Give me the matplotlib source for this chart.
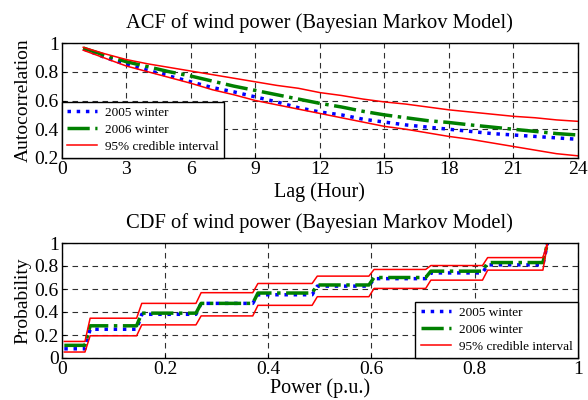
import numpy as np
import matplotlib
matplotlib.use('Agg')
import matplotlib.pyplot as plt

plt.rcParams['font.family'] = ['Liberation Serif', 'DejaVu Serif']

# ACF data (lag in hours)
lags = list(range(1, 25))
acf_2005 = [0.96, 0.90, 0.85, 0.81, 0.77, 0.73, 0.69, 0.66, 0.625, 0.59, 0.55, 0.52,
            0.50, 0.47, 0.45, 0.43, 0.415, 0.40, 0.385, 0.37, 0.36, 0.35, 0.34, 0.33]
acf_2006 = [0.965, 0.915, 0.87, 0.835, 0.80, 0.77, 0.735, 0.70, 0.67, 0.64, 0.61, 0.58,
            0.555, 0.525, 0.50, 0.48, 0.46, 0.447, 0.43, 0.415, 0.40, 0.385, 0.37, 0.36]
acf_upper = [0.97, 0.925, 0.885, 0.855, 0.83, 0.805, 0.78, 0.755, 0.73, 0.705, 0.685, 0.655,
             0.635, 0.61, 0.59, 0.575, 0.555, 0.535, 0.52, 0.505, 0.49, 0.48, 0.465, 0.455]
acf_lower = [0.95, 0.895, 0.84, 0.80, 0.76, 0.72, 0.675, 0.64, 0.60, 0.57, 0.54, 0.51,
             0.48, 0.45, 0.42, 0.40, 0.375, 0.35, 0.33, 0.305, 0.28, 0.255, 0.23, 0.215]

# CDF data: step edges (p.u.) and level of each step
cdf_edges = [0.005, 0.05, 0.15, 0.265, 0.375, 0.49, 0.60, 0.71, 0.82, 0.937]
cdf_2005 = [0.08, 0.25, 0.38, 0.475, 0.55, 0.625, 0.69, 0.74, 0.81]
cdf_2006 = [0.11, 0.28, 0.39, 0.475, 0.565, 0.635, 0.70, 0.755, 0.83]
cdf_upper = [0.144, 0.346, 0.475, 0.568, 0.648, 0.712, 0.77, 0.804, 0.873]
cdf_lower = [0.052, 0.193, 0.288, 0.366, 0.458, 0.533, 0.605, 0.677, 0.764]


def step_xy(edges, levels, w=0.005):
    xs, ys = [], []
    for i, lv in enumerate(levels):
        x0 = edges[i] + (w if i > 0 else 0)
        x1 = edges[i + 1] - w
        xs += [x0, x1]
        ys += [lv, lv]
    xs.append(edges[-1] + w)
    ys.append(1.02)
    return xs, ys


def style_axes(ax):
    ax.grid(True, color='#303030', linestyle=(0, (5, 4)), linewidth=0.8)
    ax.tick_params(direction='in', labelsize=14, length=3, pad=2)
    for s in ax.spines.values():
        s.set_linewidth(1.0)


def add_legend(ax, loc):
    leg = ax.legend(loc=loc, fontsize=9.5, borderaxespad=0, fancybox=False,
                    edgecolor='black', framealpha=1, handlelength=2.3,
                    handletextpad=0.6, labelspacing=0.35)
    leg.get_frame().set_linewidth(1.0)


fig = plt.figure(figsize=(5.88, 4.0), dpi=100)
ax1 = fig.add_axes([0.105, 0.605, 0.878, 0.2875])
ax2 = fig.add_axes([0.105, 0.105, 0.878, 0.2875])

# ---- ACF ----
ax1.plot(lags, acf_2005, color='#0000ff', linestyle=':', linewidth=2.5, label='2005 winter')
ax1.plot(lags, acf_2006, color='#008000', linestyle='-.', linewidth=2.5, label='2006 winter')
ax1.plot(lags, acf_upper, color='#ff0000', linewidth=1.1, label='95% credible interval')
ax1.plot(lags, acf_lower, color='#ff0000', linewidth=1.1)
ax1.set_xlim(0, 24)
ax1.set_ylim(0.2, 1)
ax1.set_xticks(range(0, 25, 3))
ax1.set_yticks([0.2, 0.4, 0.6, 0.8, 1])
ax1.set_yticklabels(['0.2', '0.4', '0.6', '0.8', '1'])
style_axes(ax1)
ax1.set_title('ACF of wind power (Bayesian Markov Model)', fontsize=14.8, pad=11)
ax1.set_xlabel('Lag (Hour)', fontsize=14.5, labelpad=3)
ax1.set_ylabel('Autocorrelation', fontsize=14, labelpad=2)
add_legend(ax1, 'lower left')

# ---- CDF ----
for lv, kw in [(cdf_2005, dict(color='#0000ff', linestyle=':', linewidth=2.5, label='2005 winter')),
               (cdf_2006, dict(color='#008000', linestyle='-.', linewidth=2.5, label='2006 winter')),
               (cdf_upper, dict(color='#ff0000', linewidth=1.1, label='95% credible interval')),
               (cdf_lower, dict(color='#ff0000', linewidth=1.1))]:
    xs, ys = step_xy(cdf_edges, lv)
    ax2.plot(xs, ys, **kw)
ax2.set_xlim(0, 1)
ax2.set_ylim(0, 1)
ax2.set_xticks([0, 0.2, 0.4, 0.6, 0.8, 1])
ax2.set_xticklabels(['0', '0.2', '0.4', '0.6', '0.8', '1'])
ax2.set_yticks([0, 0.2, 0.4, 0.6, 0.8, 1])
ax2.set_yticklabels(['0', '0.2', '0.4', '0.6', '0.8', '1'])
style_axes(ax2)
ax2.set_title('CDF of wind power (Bayesian Markov Model)', fontsize=14.8, pad=11)
ax2.set_xlabel('Power (p.u.)', fontsize=14.5, labelpad=0)
ax2.set_ylabel('Probability', fontsize=14, labelpad=2)
add_legend(ax2, 'lower right')

fig.savefig('out.png', dpi=100)
